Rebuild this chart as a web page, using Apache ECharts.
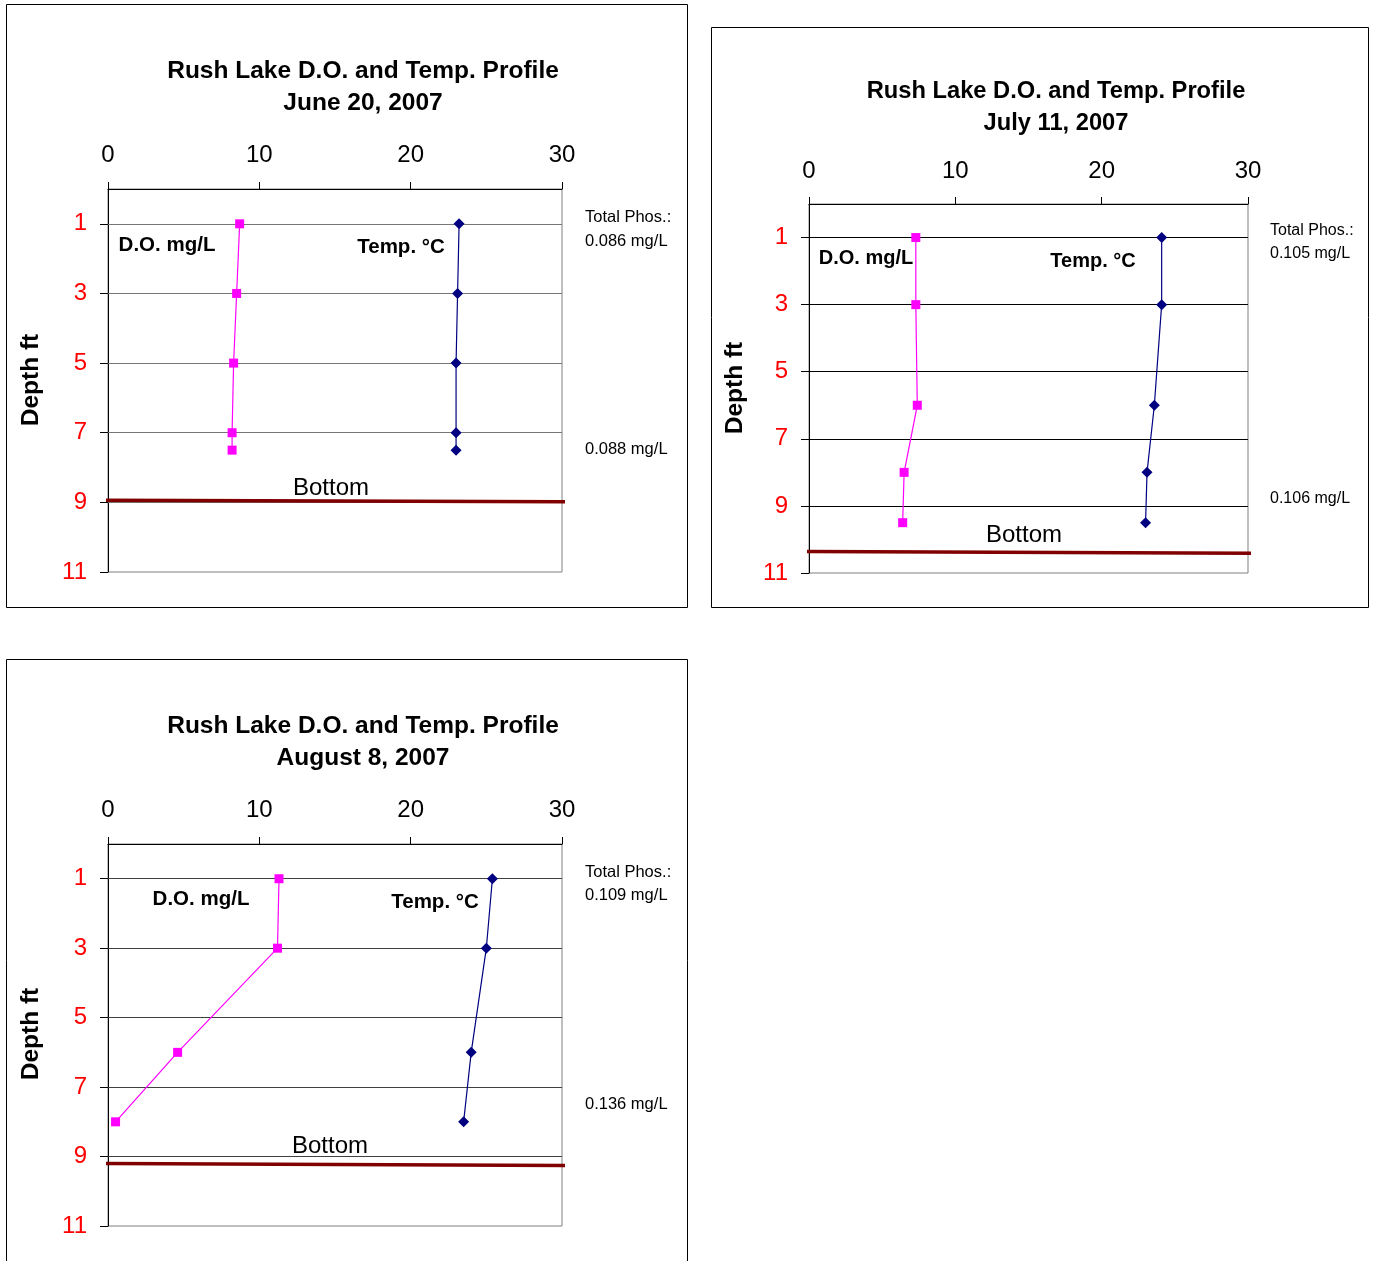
<!DOCTYPE html>
<html>
<head>
<meta charset="utf-8">
<script src="https://cdn.jsdelivr.net/npm/echarts@6/dist/echarts.min.js"></script>
<style>
html,body{margin:0;padding:0;background:#fff;}
#c{width:1374px;height:1261px;}
</style>
</head>
<body>
<div id="c"></div>
<script>
// ---- data ----
const titles = ['Rush Lake D.O. and Temp. Profile\nJune 20, 2007',
                'Rush Lake D.O. and Temp. Profile\nJuly 11, 2007',
                'Rush Lake D.O. and Temp. Profile\nAugust 8, 2007'];
const xTicks = [0, 10, 20, 30];
const depthTicks = [1, 3, 5, 7, 9, 11];
const gridDepths = [1, 3, 5, 7, 9];

const juneDepth = [1, 3, 5, 7, 7.5];
const juneDO    = [8.7, 8.5, 8.3, 8.2, 8.2];
const juneTemp  = [23.2, 23.1, 23.0, 23.0, 23.0];
const juneBottom = [8.94, 8.98];
const junePhos = ['Total Phos.:', '0.086 mg/L', '0.088 mg/L'];

const julyDepth = [1, 3, 6, 8, 9.5];
const julyDO    = [7.3, 7.3, 7.4, 6.5, 6.4];
const julyTemp  = [24.1, 24.1, 23.6, 23.1, 23.0];
const julyBottom = [10.36, 10.41];
const julyPhos = ['Total Phos.:', '0.105 mg/L', '0.106 mg/L'];

const augDepth = [1, 3, 6, 8];
const augDO    = [11.3, 11.2, 4.6, 0.5];
const augTemp  = [25.4, 25.0, 24.0, 23.5];
const augBottom = [9.2, 9.26];
const augPhos = ['Total Phos.:', '0.109 mg/L', '0.136 mg/L'];

const bottomX = [-0.53, 30.3];

// ---- layout ----
const FONT = '"Liberation Sans", Arial, sans-serif';
const panels = [
  {grid:{left:108, top:189, width:454, height:383}, gridColor:'#767676', title:[363,55], titleSize:24.5, depthLbl:[31,380],
   depth:juneDepth, dox:juneDO, temp:juneTemp, bottom:juneBottom, phos:junePhos, phosSize:16.5, annSize:20.5,
   doLbl:[167,245], tLbl:[401,247], phosPos:[585,217,241,449], botLbl:[331,488], labelMargin:22,
   box:[6.5,4.5,681,603]},
  {grid:{left:809, top:204, width:439, height:369}, gridColor:'#000000', title:[1056,75], titleSize:23.7, depthLbl:[735,388],
   depth:julyDepth, dox:julyDO, temp:julyTemp, bottom:julyBottom, phos:julyPhos, phosSize:16, annSize:20,
   doLbl:[866,258], tLbl:[1093,261], phosPos:[1270,231,254,499], botLbl:[1024,535], labelMargin:21,
   box:[711.5,27.5,657,580]},
  {grid:{left:108, top:844, width:454, height:382}, gridColor:'#404040', title:[363,710], titleSize:24.5, depthLbl:[31,1034],
   depth:augDepth, dox:augDO, temp:augTemp, bottom:augBottom, phos:augPhos, phosSize:16.5, annSize:20.5,
   doLbl:[201,899], tLbl:[435,902], phosPos:[585,872,895,1104], botLbl:[330,1146], labelMargin:22,
   box:[6.5,659.5,681,640]}
];

const option = {animation:false, title:[], grid:[], xAxis:[], yAxis:[], series:[], graphic:[]};

panels.forEach((p, i) => {
  option.title.push({
    text: titles[i], left: p.title[0], top: p.title[1], textAlign: 'center', padding: 0,
    textStyle: {fontFamily: FONT, fontSize: p.titleSize, fontWeight: 'bold', color: '#000', lineHeight: 32}
  });
  option.grid.push(Object.assign({show:true, borderColor:'#808080', borderWidth:1, backgroundColor:'transparent'}, p.grid));
  option.xAxis.push({
    type:'value', gridIndex:i, position:'top', min:0, max:30, interval:10,
    axisLine:{show:true, lineStyle:{color:'#000', width:1}},
    axisTick:{show:true, inside:false, length:7, lineStyle:{color:'#000'}},
    axisLabel:{fontFamily:FONT, fontSize:24, color:'#000', margin:p.labelMargin},
    splitLine:{show:false}
  });
  option.yAxis.push({
    type:'value', gridIndex:i, inverse:true, min:0, max:11,
    axisLine:{show:true, lineStyle:{color:'#000', width:1}},
    axisTick:{show:true, inside:false, length:8, customValues:depthTicks, lineStyle:{color:'#000'}},
    axisLabel:{fontFamily:FONT, fontSize:24, color:'#ff0000', margin:21, customValues:depthTicks,
      padding:[3,0,0,0]},
    splitLine:{show:false}
  });
  // gridlines + bottom line
  option.series.push({
    type:'line', xAxisIndex:i, yAxisIndex:i, clip:false, z:3,
    data: bottomX.map((x, k) => [x, p.bottom[k]]),
    symbol:'none', lineStyle:{color:'#800000', width:3.5},
    markLine:{silent:true, z:1, symbol:['none','none'], label:{show:false},
      lineStyle:{color:p.gridColor, width:1, type:'solid'},
      emphasis:{disabled:true},
      data: gridDepths.map(v => ({yAxis:v}))}
  });
  option.series.push({
    type:'line', xAxisIndex:i, yAxisIndex:i, z:4,
    data: p.depth.map((d, k) => [p.dox[k], d]),
    symbol:'rect', symbolSize:9, showAllSymbol:true,
    itemStyle:{color:'#ff00ff'}, lineStyle:{color:'#ff00ff', width:1.2}
  });
  option.series.push({
    type:'line', xAxisIndex:i, yAxisIndex:i, z:4,
    data: p.depth.map((d, k) => [p.temp[k], d]),
    symbol:'diamond', symbolSize:11, showAllSymbol:true,
    itemStyle:{color:'#000080'}, lineStyle:{color:'#000080', width:1.2}
  });
  // panel border
  option.graphic.push({type:'rect', shape:{x:p.box[0], y:p.box[1], width:p.box[2], height:p.box[3]},
    style:{fill:'none', stroke:'#000', lineWidth:1}, z:-1, silent:true});
  // Depth ft
  option.graphic.push({type:'text', x:p.depthLbl[0], y:p.depthLbl[1], rotation:Math.PI/2,
    style:{text:'Depth ft', font:'bold 24.5px '+FONT, fill:'#000', align:'center', verticalAlign:'middle'}});
  option.graphic.push({type:'text', x:p.doLbl[0], y:p.doLbl[1],
    style:{text:'D.O. mg/L', font:'bold '+p.annSize+'px '+FONT, fill:'#000', align:'center', verticalAlign:'middle'}});
  option.graphic.push({type:'text', x:p.tLbl[0], y:p.tLbl[1],
    style:{text:'Temp. \u00B0C', font:'bold '+p.annSize+'px '+FONT, fill:'#000', align:'center', verticalAlign:'middle'}});
  [1,2,3].forEach(k => {
    option.graphic.push({type:'text', x:p.phosPos[0], y:p.phosPos[k],
      style:{text:p.phos[k-1], font:p.phosSize+'px '+FONT, fill:'#000', align:'left', verticalAlign:'middle'}});
  });
  option.graphic.push({type:'text', x:p.botLbl[0], y:p.botLbl[1],
    style:{text:'Bottom', font:'24px '+FONT, fill:'#000', align:'center', verticalAlign:'middle'}});
});

const chart = echarts.init(document.getElementById('c'), null, {renderer:'canvas'});
chart.setOption(option);
</script>
</body>
</html>
